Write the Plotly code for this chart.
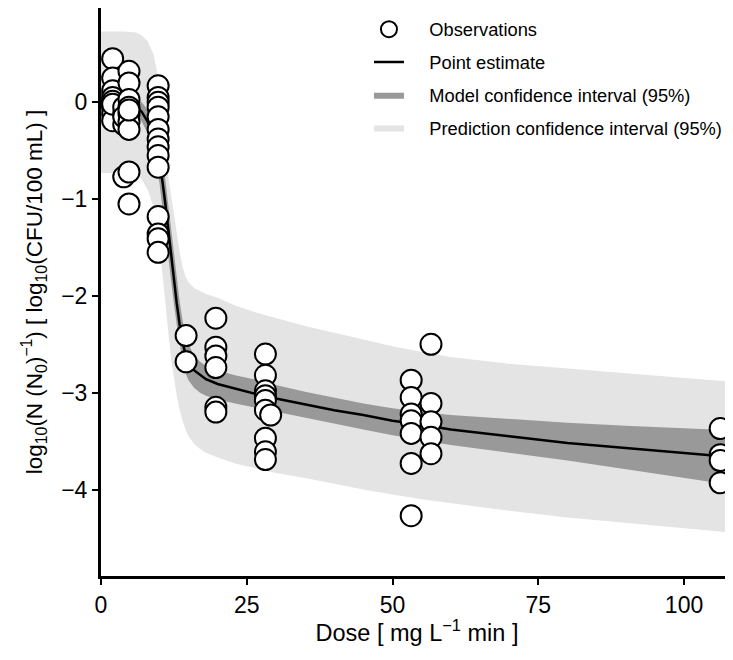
import plotly.graph_objects as go

# ---- Observations ----
obs_dose = ([2.0] * 9 + [3.9] * 5 + [4.8] * 10 + [9.8] * 14 + [14.6] * 2 + [19.7] * 6
            + [28.2] * 9 + [29.1] + [53.2] * 7 + [56.6] * 5 + [106.2] * 4)
obs_value = [0.45, 0.25, 0.12, 0.05, 0.01, -0.05, -0.12, -0.19, -0.02,
             -0.12, -0.23, -0.77, -0.05, -0.15,
             0.32, 0.20, 0.03, -0.05, -0.12, -0.20, -0.28, -0.72, -1.05, -0.08,
             0.17, 0.05, 0.00, -0.05, -0.15, -0.28, -0.38, -0.46, -0.55, -0.67, -1.18, -1.36, -1.41, -1.55,
             -2.41, -2.68,
             -2.23, -2.53, -2.62, -2.74, -3.15, -3.20,
             -2.60, -2.82, -2.98, -3.03, -3.08, -3.18, -3.47, -3.61, -3.69, -3.23,
             -2.87, -3.05, -3.22, -3.29, -3.42, -3.73, -4.27,
             -2.50, -3.11, -3.30, -3.46, -3.63,
             -3.37, -3.64, -3.70, -3.93]

# ---- Model curve and bands ----
grid = [0, 2, 4, 6, 7, 8, 9, 10, 10.5, 11, 11.5, 12, 12.5, 13, 13.5, 14, 14.5, 15, 16, 17, 18,
        20, 23, 27, 30, 35, 40, 45, 50, 55, 60, 70, 80, 90, 100, 109]
point_est = [0.02, 0.01, 0.0, -0.04, -0.10, -0.20, -0.38, -0.62, -0.80, -1.03, -1.30, -1.58, -1.83,
             -2.08, -2.30, -2.48, -2.60, -2.68, -2.77, -2.82, -2.86,
             -2.91, -2.96, -3.02, -3.06, -3.12, -3.18, -3.23, -3.29, -3.33, -3.38, -3.45, -3.52,
             -3.57, -3.62, -3.67]
model_hi = [0.10, 0.08, 0.07, 0.04, 0.0, -0.08, -0.22, -0.42, -0.58, -0.78, -1.04, -1.30, -1.56,
            -1.82, -2.06, -2.26, -2.40, -2.50, -2.62, -2.68, -2.72,
            -2.77, -2.82, -2.87, -2.92, -2.99, -3.05, -3.11, -3.16, -3.20, -3.23, -3.27, -3.31,
            -3.34, -3.37, -3.39]
model_lo = [-0.06, -0.06, -0.07, -0.12, -0.20, -0.32, -0.55, -0.82, -1.02, -1.27, -1.55, -1.83, -2.08,
            -2.30, -2.50, -2.68, -2.80, -2.87, -2.95, -3.00, -3.03,
            -3.07, -3.11, -3.16, -3.20, -3.26, -3.32, -3.38, -3.44, -3.49, -3.54, -3.62, -3.70,
            -3.79, -3.88, -3.96]
pred_hi = [0.73, 0.73, 0.73, 0.72, 0.69, 0.63, 0.50, 0.20, -0.20, -0.52, -0.75, -0.95, -1.15,
           -1.38, -1.55, -1.70, -1.80, -1.86, -1.92, -1.95, -1.98,
           -2.02, -2.10, -2.18, -2.23, -2.31, -2.38, -2.45, -2.52, -2.58, -2.63, -2.70, -2.75,
           -2.80, -2.85, -2.89]
pred_lo = [-0.73, -0.73, -0.73, -0.74, -0.80, -0.90, -1.08, -1.45, -1.75, -2.05, -2.35, -2.64, -2.85,
           -3.03, -3.18, -3.29, -3.38, -3.45, -3.53, -3.58, -3.62,
           -3.67, -3.73, -3.79, -3.83, -3.88, -3.94, -4.00, -4.05, -4.10, -4.14, -4.22, -4.29,
           -4.35, -4.40, -4.45]

x_ticks = [0, 25, 50, 75, 100]
y_ticks = [0, -1, -2, -3, -4]
y_ticktext = ["0", "−1", "−2", "−3", "−4"]

LIGHT = "#e4e4e4"
DARK = "#999999"
PAD = "\u00a0\u00a0\u00a0\u00a0"

fig = go.Figure()

fig.add_trace(go.Scatter(
    x=grid + grid[::-1], y=pred_hi + pred_lo[::-1], fill="toself", fillcolor=LIGHT,
    line=dict(width=0, color=LIGHT), mode="lines", hoverinfo="skip",
    name=PAD + "Prediction confidence interval (95%)", legendrank=4, legendgroup="d"))
fig.add_trace(go.Scatter(
    x=grid + grid[::-1], y=model_hi + model_lo[::-1], fill="toself", fillcolor=DARK,
    line=dict(width=0, color=DARK), mode="lines", hoverinfo="skip",
    name=PAD + "Model confidence interval (95%)", legendrank=3, legendgroup="c"))
fig.add_trace(go.Scatter(
    x=grid, y=point_est, mode="lines", line=dict(color="black", width=2.5),
    name=PAD + "Point estimate", legendrank=2, legendgroup="b"))
fig.add_trace(go.Scatter(
    x=obs_dose, y=obs_value, mode="markers",
    marker=dict(symbol="circle", size=21, color="white", line=dict(color="black", width=2)),
    name=PAD + "Observations", legendrank=1, legendgroup="a"))

FONT = "Liberation Sans, Arial, sans-serif"

fig.update_layout(
    width=725, height=638,
    margin=dict(l=93, r=0, t=0, b=66),
    plot_bgcolor="white", paper_bgcolor="white",
    font=dict(family=FONT, color="black"),
    showlegend=True,
    legend=dict(x=0.424, y=0.995, xanchor="left", yanchor="top",
                font=dict(size=18.3, family=FONT, color="black"),
                bgcolor="rgba(0,0,0,0)", traceorder="grouped", tracegroupgap=6),
    xaxis=dict(range=[0, 108.4], tickvals=x_ticks, ticktext=[str(v) for v in x_ticks],
               showgrid=False, zeroline=False, showline=True, linecolor="black", linewidth=3,
               ticks="outside", ticklen=6, tickwidth=2, tickcolor="black",
               tickfont=dict(size=23, family=FONT),
               title=dict(text="Dose [ mg L<sup>−1</sup> min ]", font=dict(size=23.5, family=FONT),
                          standoff=12)),
    yaxis=dict(range=[-4.893, 0.974], tickvals=y_ticks, ticktext=y_ticktext,
               showgrid=False, zeroline=False, showline=True, linecolor="black", linewidth=3,
               ticks="outside", ticklen=6, tickwidth=2, tickcolor="black",
               tickfont=dict(size=23, family=FONT),
               title=dict(text="log<sub>10</sub>(N (N<sub>0</sub>)<sup>−1</sup>) [ log<sub>10</sub>(CFU/100 mL) ]",
                          font=dict(size=22.5, family=FONT), standoff=13)),
)

fig.write_html("out.html")
